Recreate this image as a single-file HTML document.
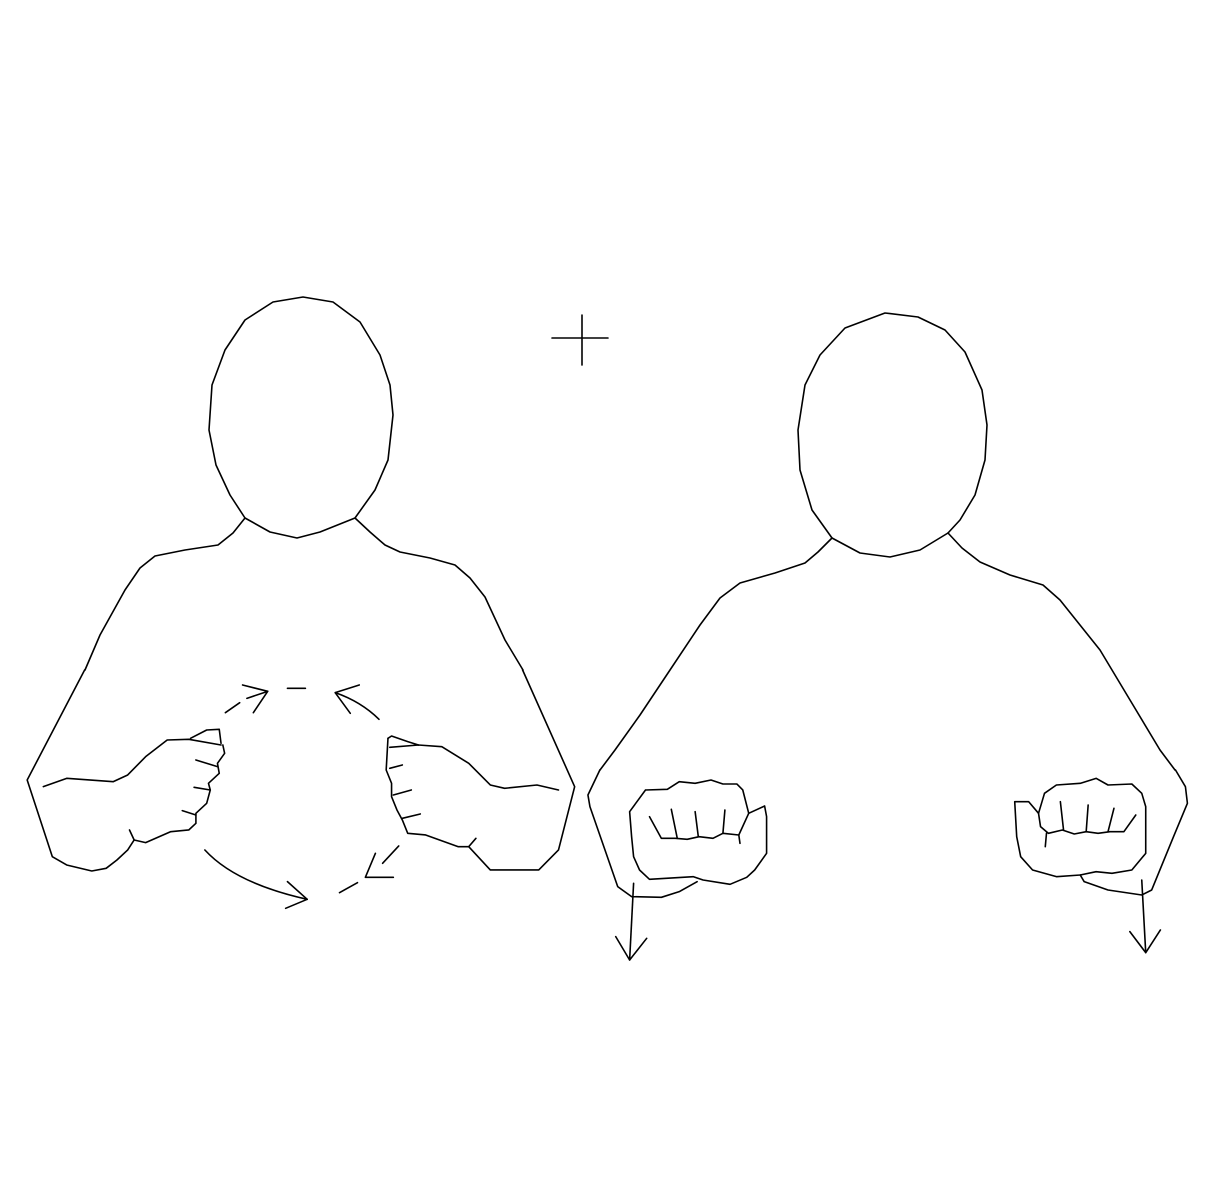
<!DOCTYPE html>
<html><head><meta charset="utf-8"><style>
html,body{margin:0;padding:0;background:#fff;width:1226px;height:1200px;overflow:hidden}
svg{display:block}
path,polyline,line{fill:none;stroke:#000;stroke-width:1.6;stroke-linejoin:round;stroke-linecap:round;vector-effect:non-scaling-stroke}
</style></head><body>
<svg width="1226" height="1200" viewBox="0 0 1226 1200">
<g>
<polyline points="245,518 230,495 216,465 209,430 212,385 225,350 245,320 273,302 303,297 333,302 360,322 380,355 390,385 393,415 388,460 375,490 355,518 320,532 297,538 270,532 245,518"/>
<polyline points="245,518 233,533 218,545 185,550 155,556 140,568 125,590 100,635 85,670"/>
<polyline points="355,518 370,532 385,545 400,552 430,558 455,565 470,578 485,597 505,640 523,670"/>
<g transform="translate(20,670) scale(0.359,0.3333)">
<polyline points="180,0 20,330 90,560 130,585 200,603 240,595 270,570 300,540 318,510 350,518 420,485 470,480 490,460 490,430 520,400 530,360 525,340 555,310 550,280 570,250 565,225"/>
<polyline points="475,205 520,180 555,178 560,220"/>
<polyline points="560,225 470,208 410,210 350,260 300,315 260,335 130,325 65,350"/>
<line x1="490" y1="270" x2="550" y2="290"/><line x1="485" y1="352" x2="530" y2="360"/><line x1="452" y1="422" x2="490" y2="435"/><line x1="305" y1="480" x2="318" y2="510"/>
<polyline points="1400,0 1545,350 1500,540 1445,600 1310,600 1250,530 1220,530 1130,495 1080,490 1065,450 1050,420 1035,380 1035,340 1020,300 1025,205"/>
<polyline points="1025,205 1035,198 1080,215 1110,225"/>
<polyline points="1030,232 1110,225 1175,230 1250,280 1310,345 1350,355 1440,345 1500,360"/>
<line x1="1030" y1="295" x2="1065" y2="285"/><line x1="1040" y1="375" x2="1090" y2="360"/><line x1="1065" y1="445" x2="1115" y2="432"/><line x1="1250" y1="530" x2="1270" y2="505"/>
<g>
<line x1="572" y1="128" x2="612" y2="98"/><line x1="632" y1="85" x2="690" y2="64"/>
<polyline points="620,45 690,64 650,128"/>
<line x1="745" y1="55" x2="795" y2="55"/>
<path d="M1000,148 Q950,95 878,68"/><polyline points="945,45 878,68 920,130"/>
<path d="M515,540 Q600,640 800,688"/><polyline points="745,635 800,688 740,715"/>
<line x1="890" y1="668" x2="940" y2="638"/><line x1="1010" y1="580" x2="1055" y2="528"/>
<polyline points="990,550 962,622 1040,622"/>
</g>
</g>
</g>
<g>
<line x1="552" y1="338" x2="608" y2="338"/><line x1="582" y1="315" x2="582" y2="365"/>
</g>
<g>
<polyline points="832,538 812,510 800,470 798,430 805,385 820,355 845,328 885,313 918,317 945,330 965,352 982,390 987,425 985,460 975,495 960,520 948,533 920,550 890,557 860,553 832,538"/>
<polyline points="832,538 818,552 805,563 775,573 740,583 720,598 700,625 670,670 640,715 615,750 600,770"/>
<polyline points="948,533 962,548 980,562 1010,575 1043,585 1060,600 1080,625 1100,650 1130,700 1160,750 1175,770"/>
<g transform="translate(580,770) scale(0.397,0.3333)">
<polyline points="50,0 20,75 25,110 95,350 130,380 205,382 250,365 295,335"/>
<polyline points="165,60 220,58 250,35 290,40 330,30 360,42 395,42 410,60 425,130 465,108 470,140 470,250 440,300 420,322 378,343 310,330 285,320 175,328 150,300 135,260 130,200 125,125 165,60"/>
<polyline points="175,140 205,205 240,205 270,208 300,200 335,205 360,190 400,195 425,130"/>
<line x1="230" y1="118" x2="245" y2="205"/><line x1="290" y1="125" x2="298" y2="200"/><line x1="365" y1="120" x2="360" y2="190"/><line x1="400" y1="195" x2="403" y2="220"/>
<line x1="135" y1="340" x2="125" y2="570"/><polyline points="90,500 125,570 168,505"/>
<polyline points="1095,95 1130,95 1155,130 1170,70 1200,45 1260,40 1300,25 1330,45 1390,42 1415,70 1425,110 1425,250 1390,300 1340,310 1300,305 1260,315 1200,320 1140,300 1110,260 1100,200 1095,95"/>
<polyline points="1155,130 1160,170 1180,190 1215,180 1245,192 1275,185 1305,190 1335,185 1370,185 1400,135"/>
<line x1="1210" y1="95" x2="1218" y2="180"/><line x1="1280" y1="105" x2="1275" y2="185"/><line x1="1345" y1="115" x2="1330" y2="185"/><line x1="1175" y1="190" x2="1172" y2="230"/>
<polyline points="1260,315 1270,335 1330,360 1415,375 1440,360 1495,200 1530,100 1525,50 1500,0"/>
<line x1="1415" y1="330" x2="1425" y2="548"/><polyline points="1385,485 1425,548 1462,480"/>
</g>
</g>
</svg>
</body></html>
